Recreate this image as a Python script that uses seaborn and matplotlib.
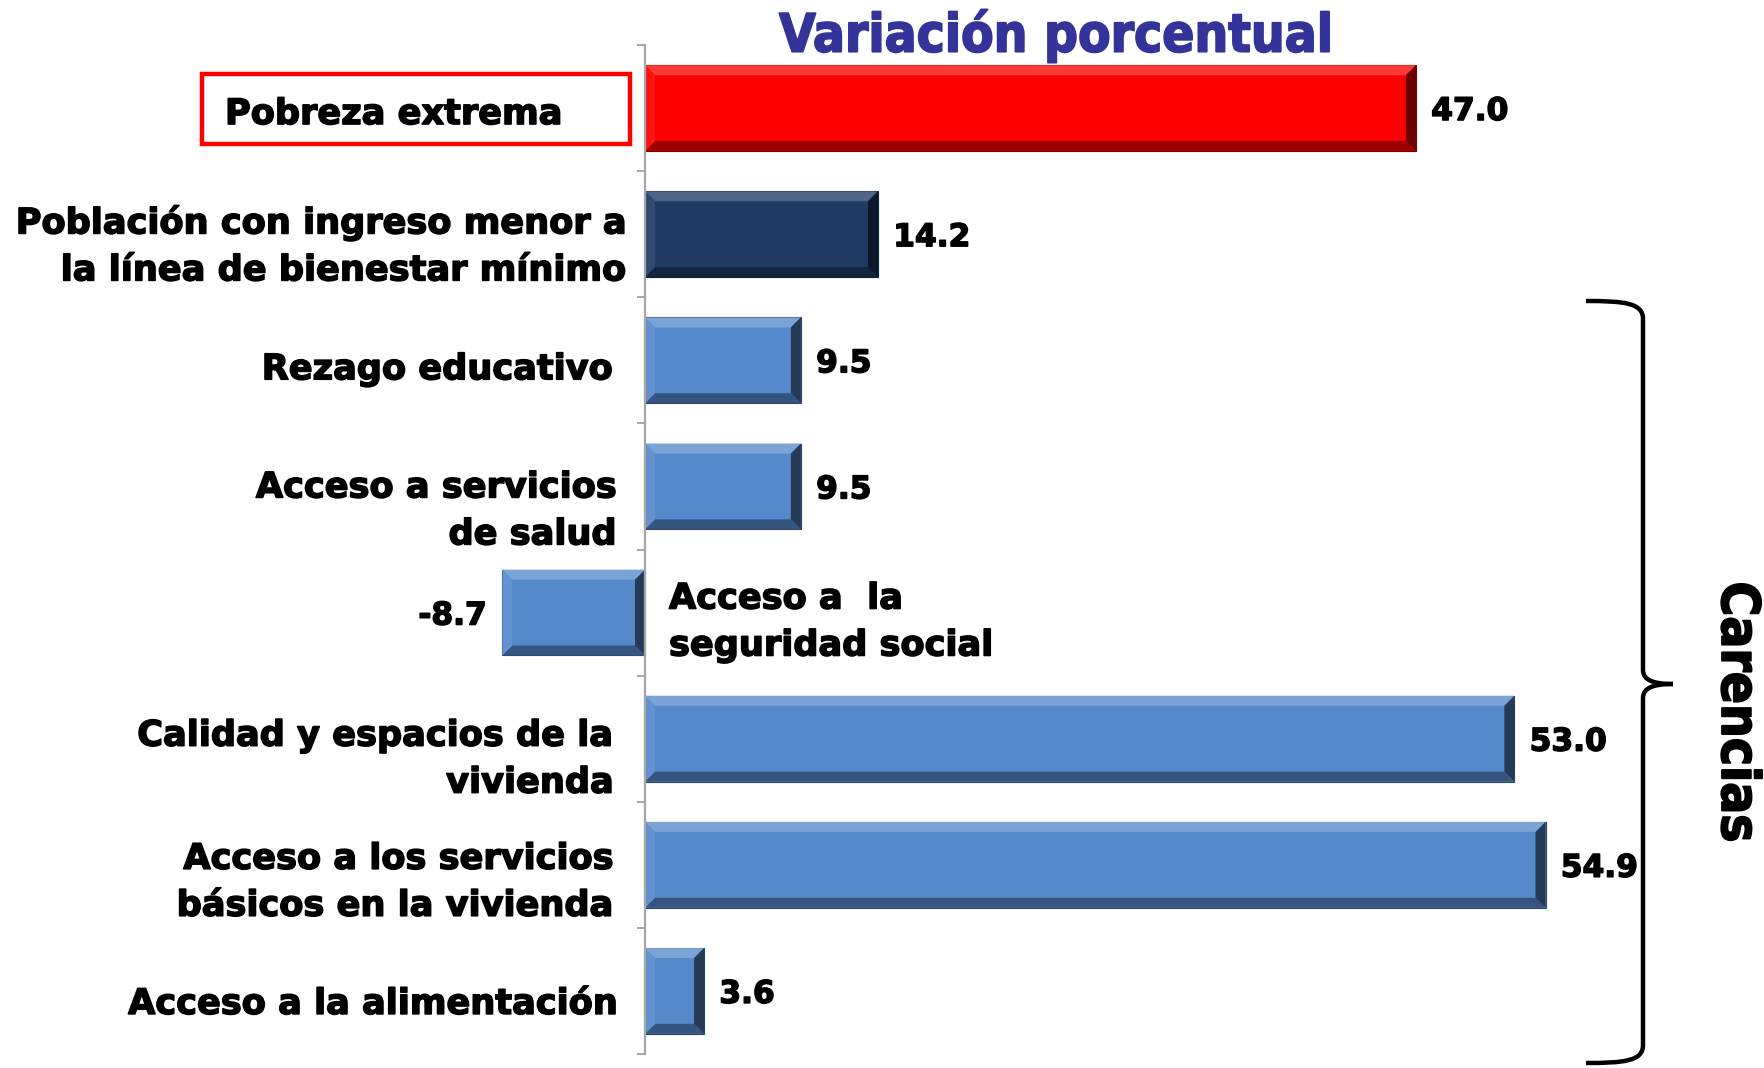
import numpy as np
import pandas as pd
import matplotlib
matplotlib.use("Agg")
import matplotlib.pyplot as plt
import seaborn as sns
from matplotlib.patches import Polygon, Rectangle, PathPatch
from matplotlib.path import Path
from matplotlib import colors as mcolors
import matplotlib.patheffects as pe

# ---------------- data ----------------
categories = [
    "Pobreza extrema",
    "Población con ingreso menor a\nla línea de bienestar mínimo",
    "Rezago educativo",
    "Acceso a servicios\nde salud",
    "Acceso a  la\nseguridad social",
    "Calidad y espacios de la\nvivienda",
    "Acceso a los servicios\nbásicos en la vivienda",
    "Acceso a la alimentación",
]
values = [47.0, 14.2, 9.5, 9.5, -8.7, 53.0, 54.9, 3.6]
value_labels = ["47.0", "14.2", "9.5", "9.5", "-8.7", "53.0", "54.9", "3.6"]
bar_colors = ["#FF0000", "#1F3A63", "#5589CB", "#5589CB", "#5589CB",
              "#5589CB", "#5589CB", "#5589CB"]
title = "Variación porcentual"
group_label = "Carencias"

# ---------------- figure ----------------
sns.set_theme(style="white")
plt.rcParams["font.family"] = ["DejaVu Sans"]

W, H = 1764, 1068
fig = plt.figure(figsize=(W / 100, H / 100), dpi=100)
ax_left, ax_right = 481, 1662
ax_top, ax_bottom = 45, 1054
ax = fig.add_axes([ax_left / W, 1 - ax_bottom / H,
                   (ax_right - ax_left) / W, (ax_bottom - ax_top) / H])

df = pd.DataFrame({"cat": categories, "val": values})
sns.barplot(data=df, x="val", y="cat", hue="cat", palette=bar_colors,
            orient="h", width=0.68, legend=False, ax=ax, saturation=1)

ax.set_xlim(-10, 62)
ax.set_ylim(7.5, -0.5)
ax.set_xlabel("")
ax.set_ylabel("")
for s in ["top", "right", "bottom"]:
    ax.spines[s].set_visible(False)
ax.spines["left"].set_position(("data", 0))
ax.spines["left"].set_color("#a6a6a6")
ax.spines["left"].set_linewidth(1.6)
ax.set_xticks([])
ax.set_yticks(np.arange(-0.5, 8, 1))
ax.set_yticklabels([])
ax.tick_params(axis="y", direction="out", length=6, width=1.4,
               color="#a6a6a6", left=True)
ax.patch.set_alpha(0)

# ---------------- bevel effect on bars ----------------
fig.canvas.draw()
inv = ax.transData.inverted()
bev = 10  # px
for p, c in zip(ax.patches, bar_colors):
    bb = p.get_window_extent()
    x0, x1, y0, y1 = bb.x0, bb.x1, bb.y0, bb.y1
    rgb = np.array(mcolors.to_rgb(c))
    light = rgb + (1 - rgb) * 0.22
    lighter = rgb + (1 - rgb) * 0.08
    dark = rgb * 0.62
    darker = rgb * 0.42
    b = min(bev, (x1 - x0) / 2 - 1, (y1 - y0) / 2 - 1)
    polys = [
        ([(x0, y1), (x1, y1), (x1 - b, y1 - b), (x0 + b, y1 - b)], light),    # top
        ([(x0, y0), (x1, y0), (x1 - b, y0 + b), (x0 + b, y0 + b)], dark),     # bottom
        ([(x0, y0), (x0, y1), (x0 + b, y1 - b), (x0 + b, y0 + b)], lighter),  # left
        ([(x1, y0), (x1, y1), (x1 - b, y1 - b), (x1 - b, y0 + b)], darker),   # right
    ]
    for pts, col in polys:
        d = inv.transform(pts)
        ax.add_patch(Polygon(d, closed=True, facecolor=col, edgecolor="none",
                             zorder=p.get_zorder() + 0.1))
    p.set_edgecolor(mcolors.to_hex(rgb * 0.5))
    p.set_linewidth(0.8)

bold_fx = [pe.withStroke(linewidth=1.1, foreground="black")]

# ---------------- value labels ----------------
for i, (v, lab) in enumerate(zip(values, value_labels)):
    off = 11 if v >= 0 else -11
    ax.annotate(lab, xy=(v, i), xytext=(off, -2.5), textcoords="offset points",
                ha="left" if v >= 0 else "right", va="center", fontsize=22.5,
                fontweight="bold", color="black", path_effects=bold_fx)

# ---------------- category labels ----------------
label_x = [225, 627, 613, 617, 669, 614, 614, 618]
label_ha = ["left", "right", "right", "right", "left", "right", "right", "right"]
label_dy = [6, 12, 9, 24.5, 9.5, 20.5, 17.5, 13]  # px below bar centre
for i, cat in enumerate(categories):
    ax.annotate(cat, xy=(label_x[i], i), xycoords=("figure pixels", "data"),
                xytext=(0, -label_dy[i] * 0.72), textcoords="offset points",
                ha=label_ha[i], va="center", ma=label_ha[i],
                fontsize=25.3, fontweight="bold", color="black",
                linespacing=1.48, path_effects=bold_fx)

# red frame around first label
fig.patches.append(Rectangle((202 / W, 1 - 144 / H), (630 - 202) / W, 70 / H,
                             transform=fig.transFigure, fill=False,
                             edgecolor="#FF0000", linewidth=3.2))

# ---------------- title ----------------
fig.text(1056 / W, 1 - 36 / H, title, ha="center", va="center",
         fontsize=38, fontweight="bold", color="#333399",
         family=["DejaVu Sans"], fontstretch="condensed",
         path_effects=[pe.withStroke(linewidth=1.3, foreground="#333399")])

# ---------------- brace ----------------
def fx(x):
    return x / W

def fy(y):
    return 1 - y / H

xl, xv, xt = 1586, 1643, 1673
yt, ym, yb = 301, 684, 1063
verts = [
    (xl, yt), (1625, yt), (xv, yt + 2), (xv, yt + 18),
    (xv, ym - 14),
    (xv, ym - 4), (xv + 10, ym), (xt, ym),
]
codes = [Path.MOVETO, Path.CURVE4, Path.CURVE4, Path.CURVE4,
         Path.LINETO, Path.CURVE4, Path.CURVE4, Path.CURVE4]
verts2 = [
    (xt, ym), (xv + 10, ym), (xv, ym + 4), (xv, ym + 14),
    (xv, yb - 18),
    (xv, yb - 2), (1625, yb), (xl, yb),
]
for vv, cc in [(verts, codes), (verts2, codes)]:
    path = Path([(fx(a), fy(b)) for a, b in vv], cc)
    fig.patches.append(PathPatch(path, transform=fig.transFigure, fill=False,
                                 edgecolor="black", linewidth=3.2,
                                 capstyle="butt"))

fig.text(1737 / W, 1 - 712 / H, group_label, ha="center", va="center",
         rotation=-90, fontsize=38, fontweight="bold", color="black",
         family=["DejaVu Sans"], fontstretch="condensed",
         path_effects=[pe.withStroke(linewidth=1.3, foreground="black")])

fig.savefig("out.png", dpi=100)
